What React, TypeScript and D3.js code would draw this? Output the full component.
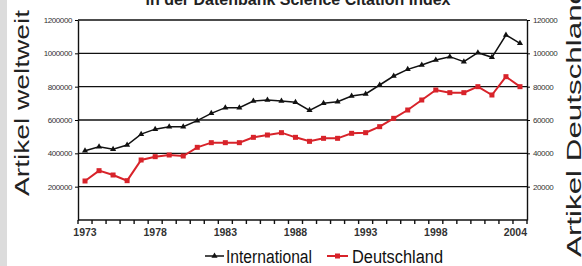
import React, { useRef, useEffect } from "react";
import * as d3 from "d3";

// Artikel in der Datenbank Science Citation Index, 1973-2004
const years = d3.range(1973, 2005);
const international = [
  415000, 440000, 425000, 450000, 515000, 545000, 560000, 560000, 596000, 640000,
  674000, 674000, 714000, 720000, 714000, 706000, 658000, 700000, 710000, 744000,
  756000, 810000, 864000, 904000, 930000, 960000, 980000, 950000, 1004000, 976000,
  1110000, 1060000,
];
const deutschland = [
  23400, 29600, 27000, 23600, 36000, 38000, 39000, 38400, 43600, 46400,
  46400, 46400, 49600, 51000, 52400, 49600, 47200, 49000, 49000, 52000,
  52400, 56000, 61000, 66000, 72000, 78000, 76400, 76400, 80000, 75000,
  86000, 80000,
];
const leftTicks = [200000, 400000, 600000, 800000, 1000000, 1200000];
const rightTicks = [20000, 40000, 60000, 80000, 100000, 120000];
const xLabels = [1973, 1978, 1983, 1988, 1993, 1998, 2004];

function App() {
  const svgRef = useRef<SVGSVGElement>(null);
  const width = 582;
  const height = 266;
  const margin = { top: 20, right: 55, bottom: 46, left: 78 };

  useEffect(() => {
    const svg = d3.select(svgRef.current);
    svg.selectAll("*").remove();

    const x = d3
      .scaleBand<number>()
      .domain(years)
      .range([margin.left, width - margin.right]);
    const cx = (d: number) => (x(d) ?? 0) + x.bandwidth() / 2;
    const yL = d3.scaleLinear().domain([0, 1200000]).range([height - margin.bottom, margin.top]);
    const yR = d3.scaleLinear().domain([0, 120000]).range([height - margin.bottom, margin.top]);
    const bottom = height - margin.bottom;
    const font = "Arial, 'Liberation Sans', sans-serif";

    // grey strip at left edge
    svg.append("rect").attr("x", 0).attr("y", 0).attr("width", 7).attr("height", height).attr("fill", "#dcdcdc");

    // title, mostly cut off at the top edge (as in the source image)
    svg
      .append("text")
      .attr("x", 298)
      .attr("y", 5)
      .attr("text-anchor", "middle")
      .attr("font-family", font)
      .attr("font-weight", "bold")
      .attr("font-size", 16)
      .attr("fill", "#222")
      .text("in der Datenbank Science Citation Index");

    // gridlines
    svg
      .append("g")
      .selectAll("line")
      .data(leftTicks)
      .join("line")
      .attr("x1", margin.left)
      .attr("x2", width - margin.right)
      .attr("y1", (d) => yL(d))
      .attr("y2", (d) => yL(d))
      .attr("stroke", "#111")
      .attr("stroke-width", 1.4);

    // left axis
    svg
      .append("g")
      .attr("transform", `translate(${margin.left},0)`)
      .call(d3.axisLeft(yL).tickValues(leftTicks).tickSize(3).tickSizeOuter(0).tickFormat(d3.format("d")))
      .call((g) => g.select(".domain").attr("stroke", "#111").attr("stroke-width", 1.4))
      .call((g) => g.selectAll("text").attr("font-size", 8).attr("font-family", font).attr("fill", "#333").attr("letter-spacing", -0.4));

    // right axis
    svg
      .append("g")
      .attr("transform", `translate(${width - margin.right},0)`)
      .call(d3.axisRight(yR).tickValues(rightTicks).tickSize(3).tickSizeOuter(0).tickFormat(d3.format("d")))
      .call((g) => g.select(".domain").attr("stroke", "#111").attr("stroke-width", 1.4))
      .call((g) => g.selectAll("text").attr("font-size", 8).attr("font-family", font).attr("fill", "#333").attr("letter-spacing", -0.4));

    // bottom axis with category boundary ticks
    svg
      .append("line")
      .attr("x1", margin.left)
      .attr("x2", width - margin.right)
      .attr("y1", bottom)
      .attr("y2", bottom)
      .attr("stroke", "#111")
      .attr("stroke-width", 1.6);
    const bounds = years.map((d) => x(d) ?? 0).concat([width - margin.right]);
    svg
      .append("g")
      .selectAll("line")
      .data(bounds)
      .join("line")
      .attr("x1", (d) => d)
      .attr("x2", (d) => d)
      .attr("y1", bottom)
      .attr("y2", bottom + 4)
      .attr("stroke", "#111")
      .attr("stroke-width", 1.4);
    svg
      .append("g")
      .selectAll("text")
      .data(xLabels)
      .join("text")
      .attr("x", (d, i) => (i === xLabels.length - 1 ? width - margin.right : cx(d)))
      .attr("y", 236)
      .attr("text-anchor", (d, i) => (i === xLabels.length - 1 ? "end" : "middle"))
      .attr("font-family", font)
      .attr("font-weight", "bold")
      .attr("font-size", 10.5)
      .attr("fill", "#333")
      .text((d) => d);

    // lines
    const lineL = d3.line<number>().x((d, i) => cx(years[i])).y((d) => yL(d));
    const lineR = d3.line<number>().x((d, i) => cx(years[i])).y((d) => yR(d));
    const red = "#d8232a";

    svg
      .append("path")
      .datum(international)
      .attr("fill", "none")
      .attr("stroke", "#111")
      .attr("stroke-width", 1.5)
      .attr("d", lineL);
    svg
      .append("g")
      .selectAll("path")
      .data(international)
      .join("path")
      .attr("transform", (d, i) => `translate(${cx(years[i])},${yL(d)})`)
      .attr("d", d3.symbol(d3.symbolTriangle, 16))
      .attr("fill", "#111");

    svg
      .append("path")
      .datum(deutschland)
      .attr("fill", "none")
      .attr("stroke", red)
      .attr("stroke-width", 2)
      .attr("d", lineR);
    svg
      .append("g")
      .selectAll("rect")
      .data(deutschland)
      .join("rect")
      .attr("x", (d, i) => cx(years[i]) - 2.5)
      .attr("y", (d) => yR(d) - 2.5)
      .attr("width", 5)
      .attr("height", 5)
      .attr("fill", red);

    // axis titles
    svg
      .append("text")
      .attr("transform", "translate(29,103) rotate(-90)")
      .attr("text-anchor", "middle")
      .attr("font-family", font)
      .attr("font-size", 21)
      .attr("textLength", 186)
      .attr("lengthAdjust", "spacingAndGlyphs")
      .attr("fill", "#222")
      .text("Artikel weltweit");
    svg
      .append("text")
      .attr("transform", "translate(581,257) rotate(-90)")
      .attr("text-anchor", "start")
      .attr("font-family", font)
      .attr("font-size", 21)
      .attr("textLength", 270)
      .attr("lengthAdjust", "spacingAndGlyphs")
      .attr("fill", "#222")
      .text("Artikel Deutschland");

    // legend
    const lg = svg.append("g").attr("font-family", font).attr("font-size", 18).attr("fill", "#111");
    lg.append("line").attr("x1", 205).attr("x2", 224).attr("y1", 256).attr("y2", 256).attr("stroke", "#111").attr("stroke-width", 1.5);
    lg.append("path").attr("transform", "translate(214.5,256)").attr("d", d3.symbol(d3.symbolTriangle, 16)).attr("fill", "#111");
    lg.append("text").attr("x", 226).attr("y", 263).attr("textLength", 86).attr("lengthAdjust", "spacingAndGlyphs").text("International");
    lg.append("line").attr("x1", 327).attr("x2", 348).attr("y1", 256).attr("y2", 256).attr("stroke", red).attr("stroke-width", 2);
    lg.append("rect").attr("x", 335).attr("y", 253.5).attr("width", 5).attr("height", 5).attr("fill", red);
    lg.append("text").attr("x", 352).attr("y", 263).attr("textLength", 91).attr("lengthAdjust", "spacingAndGlyphs").text("Deutschland");
  }, []);

  return (
    <div style={{ position: "absolute", left: 0, top: 0 }}>
      <svg ref={svgRef} width={width} height={height} style={{ display: "block", background: "#fff" }} />
    </div>
  );
}

export default App;
